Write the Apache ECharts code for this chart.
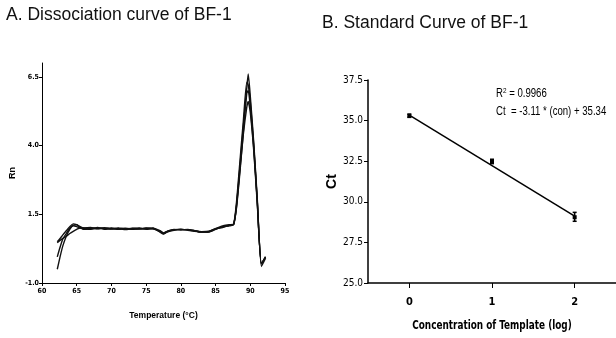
<!DOCTYPE html>
<html><head><meta charset="utf-8">
<script src="https://cdn.jsdelivr.net/npm/echarts@6/dist/echarts.min.js"></script>
<style>html,body{margin:0;padding:0;background:#fff}#c{width:616px;height:338px}</style>
</head><body><div id="c"></div>
<script>
// ---- Panel A: dissociation curves ----
const temps = [62.2,62.6,63,63.5,64,64.5,65,65.5,66,67,68,69,70,71,72,73,74,75,76,77,77.5,78,79,80,81,82,83,84,85,86,87,87.6,88,88.5,89,89.5,89.7,90,90.5,91,91.6,92.2];
const rn1 = [-0.5,-0.05,0.35,0.7,0.95,1.1,1.12,1.02,0.95,0.97,1.0,0.95,0.98,0.95,0.97,0.95,0.98,0.97,1.0,0.85,0.78,0.85,0.92,0.95,0.93,0.88,0.85,0.85,0.95,1.05,1.08,1.12,1.8,3.2,4.7,6.1,6.6,5.8,4.1,2.1,-0.4,-0.1];
const rn2 = [0.46,0.55,0.62,0.7,0.8,0.88,0.95,1.0,1.0,1.02,0.98,1.0,0.96,0.98,0.94,0.98,1.0,0.95,0.98,0.9,0.82,0.88,0.95,0.93,0.95,0.9,0.86,0.87,0.98,1.08,1.12,1.15,1.9,3.4,4.9,6.3,6.2,5.6,4.0,2.0,-0.3,-0.05];
const rn3 = [-0.05,0.3,0.6,0.8,1.0,1.08,1.05,1.0,0.98,0.95,1.02,0.97,1.0,0.97,0.99,0.97,0.96,0.99,0.97,0.88,0.8,0.86,0.93,0.96,0.92,0.89,0.87,0.88,0.97,1.02,1.1,1.14,1.7,3.0,4.5,5.9,6.0,5.4,3.9,2.0,-0.3,-0.05];
const rn4 = [0.5,0.62,0.75,0.9,1.05,1.15,1.12,1.05,1.0,0.99,0.97,1.01,0.97,1.0,0.96,0.99,0.97,1.0,0.98,0.87,0.8,0.87,0.94,0.94,0.94,0.9,0.85,0.86,0.96,1.04,1.1,1.13,1.75,3.1,4.4,5.4,5.6,5.2,3.8,1.9,-0.3,-0.05];
const aYTicks = [-1.0,1.5,4.0,6.5];
const aXTicks = [60,65,70,75,80,85,90,95];

// ---- Panel B: standard curve ----
const conc = [0,1,2];
const ctMean = [35.3,32.5,29.05];
const ctLow = [35.2,32.35,28.8];
const ctHigh = [35.4,32.62,29.35];
const fitX = [0,2];
const fitY = [35.34,29.12];
const bYTicks = [25.0,27.5,30.0,32.5,35.0,37.5];

const NARROW = '"DejaVu Sans Condensed", "Liberation Sans Narrow", "Arial Narrow", "Liberation Sans", Arial, sans-serif';
const SANS = '"Liberation Sans", Arial, Helvetica, sans-serif';

function curve(arr){
  return {type:'line', xAxisIndex:0, yAxisIndex:0, data: temps.map((t,i)=>[t,arr[i]]),
    showSymbol:false, smooth:0.2, lineStyle:{color:'#111', width:1.4}, silent:true};
}

const chart = echarts.init(document.getElementById('c'), null, {renderer:'canvas'});
chart.setOption({
  animation:false,
  backgroundColor:'#fff',
  grid:[
    {left:42, top:63, width:243, height:220},
    {left:368, top:80, width:248, height:203}
  ],
  xAxis:[
    {gridIndex:0, type:'value', min:60, max:95, interval:5,
      axisLine:{onZero:false, lineStyle:{color:'#000', width:1}},
      axisTick:{length:3, lineStyle:{color:'#000'}},
      axisLabel:{color:'#000', fontSize:7, fontWeight:'bold', fontFamily:NARROW, margin:5},
      splitLine:{show:false},
      name:'Temperature (°C)', nameLocation:'middle', nameGap:28,
      nameTextStyle:{color:'#000', fontSize:8.5, fontWeight:'bold', fontFamily:SANS}},
    {gridIndex:1, type:'value', min:-0.5, max:2.5,
      axisLine:{onZero:false, lineStyle:{color:'#000', width:1.5}},
      axisTick:{length:5, customValues:conc, lineStyle:{color:'#000', width:1}},
      axisLabel:{customValues:conc, color:'#000', fontSize:11, fontWeight:'bold', fontFamily:NARROW, margin:14},
      splitLine:{show:false}}
  ],
  yAxis:[
    {gridIndex:0, type:'value', min:-1, max:7,
      axisLine:{show:true, onZero:false, lineStyle:{color:'#000', width:1}},
      axisTick:{show:true, length:3, customValues:aYTicks, lineStyle:{color:'#000'}},
      axisLabel:{customValues:aYTicks, color:'#000', fontSize:7, fontWeight:'bold', fontFamily:NARROW, margin:3,
        formatter:v=>v.toFixed(1)},
      splitLine:{show:false},
      name:'Rn', nameLocation:'middle', nameGap:25, nameRotate:90,
      nameTextStyle:{color:'#000', fontSize:9, fontWeight:'bold', fontFamily:SANS}},
    {gridIndex:1, type:'value', min:25, max:37.5, interval:2.5,
      axisLine:{show:true, onZero:false, lineStyle:{color:'#000', width:1.5}},
      axisTick:{show:true, length:4, lineStyle:{color:'#000'}},
      axisLabel:{color:'#000', fontSize:10, fontFamily:NARROW, margin:5, formatter:v=>v.toFixed(1)},
      splitLine:{show:false},
      name:'Ct', nameLocation:'middle', nameGap:28, nameRotate:90,
      nameTextStyle:{color:'#000', fontSize:14, fontWeight:'bold', fontFamily:SANS}}
  ],
  series:[
    curve(rn1), curve(rn2), curve(rn3), curve(rn4),
    {type:'line', xAxisIndex:1, yAxisIndex:1, data: fitX.map((x,i)=>[x,fitY[i]]),
      showSymbol:false, lineStyle:{color:'#000', width:1.5}, silent:true},
    {type:'custom', xAxisIndex:1, yAxisIndex:1, silent:true,
      data: conc.map((x,i)=>[x, ctLow[i], ctHigh[i], ctMean[i]]),
      renderItem:(params, api)=>{
        const lo = api.coord([api.value(0), api.value(1)]);
        const hi = api.coord([api.value(0), api.value(2)]);
        const m = api.coord([api.value(0), api.value(3)]);
        const st = {stroke:'#000', lineWidth:1.5};
        return {type:'group', children:[
          {type:'line', shape:{x1:lo[0], y1:lo[1], x2:hi[0], y2:hi[1]}, style:st},
          {type:'line', shape:{x1:lo[0]-2, y1:lo[1], x2:lo[0]+2, y2:lo[1]}, style:st},
          {type:'line', shape:{x1:hi[0]-2, y1:hi[1], x2:hi[0]+2, y2:hi[1]}, style:st},
          {type:'rect', shape:{x:m[0]-2, y:m[1]-2, width:4, height:4}, style:{fill:'#000'}}
        ]};
      }}
  ],
  graphic:[
    {type:'text', left:6, top:6, style:{text:'A. Dissociation curve of BF-1', fill:'#111', font:'17.5px '+SANS}},
    {type:'text', left:322, top:14, style:{text:'B. Standard Curve of BF-1', fill:'#111', font:'17.5px '+SANS}},
    {type:'text', x:496, y:87, scaleX:0.8, style:{rich:{b:{fill:'#000', font:'12px '+SANS}, s:{fill:'#000', font:'8px '+SANS, verticalAlign:'top', padding:[0,0,6,0]}}, text:'{b|R}{s|2}{b| = 0.9966}'}},
    {type:'text', x:496, y:106, scaleX:0.8, style:{text:'Ct  = -3.11 * (con) + 35.34', fill:'#000', font:'12px '+SANS}},
    {type:'text', x:492, y:326, scaleX:0.76, style:{text:'Concentration of Template (log)', fill:'#000', font:'bold 13px '+NARROW, align:'center', verticalAlign:'middle'}}
  ]
});
</script></body></html>
